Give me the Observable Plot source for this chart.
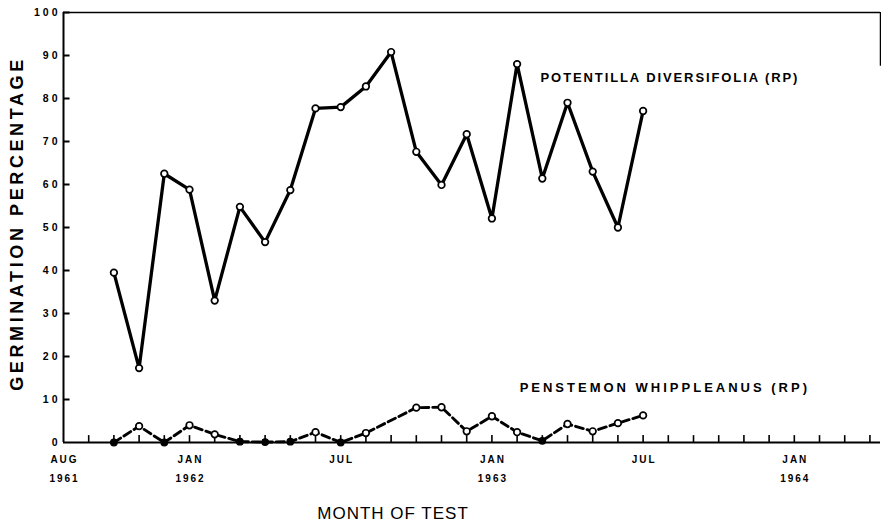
<!DOCTYPE html>
<html>
<head>
<meta charset="utf-8">
<script src="https://cdn.jsdelivr.net/npm/d3@7"></script>
<script src="https://cdn.jsdelivr.net/npm/@observablehq/plot@0.6"></script>
<style>
  body { margin: 0; background: #fff; }
  #chart svg { background: #fff; }
  text.ytl { letter-spacing: 3px; }
  text.xtl { letter-spacing: 2px; }
  text.potl { letter-spacing: 1.9px; }
  text.penl { letter-spacing: 3px; }
  text.ytitle { letter-spacing: 3.6px; }
  text.xtitle { letter-spacing: 1px; }
</style>
</head>
<body>
<div id="chart"></div>
<script>
// ---- Data ----
const potentillaMonths = ["1961-10","1961-11","1961-12","1962-01","1962-02","1962-03","1962-04","1962-05","1962-06","1962-07","1962-08","1962-09","1962-10","1962-11","1962-12","1963-01","1963-02","1963-03","1963-04","1963-05","1963-06","1963-07"];
const potentillaValues = [39.5, 17.3, 62.5, 58.8, 33.0, 54.8, 46.6, 58.7, 77.7, 78.0, 82.8, 90.8, 67.6, 59.9, 71.7, 52.1, 88.0, 61.4, 79.0, 63.0, 50.0, 77.1];

const penstemonMonths = ["1961-10","1961-11","1961-12","1962-01","1962-02","1962-03","1962-04","1962-05","1962-06","1962-07","1962-08","1962-10","1962-11","1962-12","1963-01","1963-02","1963-03","1963-04","1963-05","1963-06","1963-07"];
const penstemonValues = [0, 3.8, 0, 4.0, 1.9, 0.2, 0.1, 0.2, 2.4, 0, 2.2, 8.1, 8.2, 2.6, 6.1, 2.4, 0.4, 4.3, 2.6, 4.5, 6.3];

const xLabelMonths = ["1961-08","1962-01","1962-07","1963-01","1963-07","1964-01"];
const xMonthLabels = ["AUG","JAN","JUL","JAN","JUL","JAN"];
const xYearLabels  = ["1961","1962","","1963","","1964"];

const yTicks = [0, 10, 20, 30, 40, 50, 60, 70, 80, 90, 100];
const yTickLabels = ["0","10","20","30","40","50","60","70","80","90","100"];

const seriesLabels = ["POTENTILLA DIVERSIFOLIA (RP)", "PENSTEMON WHIPPLEANUS (RP)"];
const seriesLabelMonths = ["1963-03", "1963-02"];
const seriesLabelValues = [84.7, 12.8];

const firstMonth = "1961-08";
const lastTickMonth = "1964-04";

// ---- helpers ----
const monthIndex = s => {
  const [y, m] = s.split("-").map(Number);
  const [y0, m0] = firstMonth.split("-").map(Number);
  return (y - y0) * 12 + (m - m0);
};
const xMax = monthIndex(lastTickMonth) + 0.42;

const pot = potentillaMonths.map((d, i) => ({x: monthIndex(d), y: potentillaValues[i]}));
const pen = penstemonMonths.map((d, i) => ({x: monthIndex(d), y: penstemonValues[i]}));
const tickMonths = d3.range(1, monthIndex(lastTickMonth) + 1);
const xLabels = xLabelMonths.map((d, i) => ({x: monthIndex(d), m: xMonthLabels[i], yr: xYearLabels[i]}));
const sLabels = seriesLabels.map((t, i) => ({t, x: monthIndex(seriesLabelMonths[i]) + (i === 0 ? -0.07 : 0.1), y: seriesLabelValues[i]}));

const font = "'Liberation Sans', Arial, Helvetica, sans-serif";

const chart = Plot.plot({
  width: 881,
  height: 528,
  marginLeft: 63,
  marginRight: 1,
  marginTop: 12,
  marginBottom: 86,
  style: {fontFamily: font, color: "black", background: "white", overflow: "visible"},
  x: {domain: [0, xMax], axis: null},
  y: {domain: [0, 100], axis: null},
  marks: [
    // frame
    Plot.ruleY([100], {x1: 0, x2: xMax, strokeWidth: 1.5, stroke: "black"}),
    Plot.ruleX([xMax], {y1: 87.5, y2: 100, strokeWidth: 1.5, stroke: "black"}),
    Plot.ruleX([0], {y1: 0, y2: 100, strokeWidth: 2, stroke: "black"}),
    Plot.ruleY([0], {x1: 0, x2: xMax, strokeWidth: 2, stroke: "black"}),
    // ticks
    Plot.ruleX(tickMonths, {y1: 0, y2: 1.6, strokeWidth: 1.6, stroke: "black"}),
    Plot.ruleY(yTicks.filter(v => v > 0), {x1: 0, x2: 0.26, strokeWidth: 2, stroke: "black"}),
    // y tick labels
    Plot.text(yTicks, {x: 0, y: d => d, text: (d, i) => yTickLabels[i], textAnchor: "end", dx: -3, fontSize: 10.5, fontWeight: "bold", fill: "black", ariaLabel: () => "ytl"}),
    // x tick labels
    Plot.text(xLabels, {x: "x", y: 0, text: "m", dy: 17, dx: 1, fontSize: 10, fontWeight: "bold", fill: "black", ariaLabel: () => "xtl"}),
    Plot.text(xLabels, {x: "x", y: 0, text: "yr", dy: 36, dx: 1, fontSize: 10, fontWeight: "bold", fill: "black", ariaLabel: () => "xtl"}),
    // Potentilla
    Plot.line(pot, {x: "x", y: "y", stroke: "black", strokeWidth: 3.3}),
    Plot.dot(pot, {x: "x", y: "y", r: 3.3, fill: "white", stroke: "black", strokeWidth: 1.7}),
    // Penstemon
    Plot.line(pen, {x: "x", y: "y", stroke: "black", strokeWidth: 2.9, strokeDasharray: "8,4"}),
    Plot.dot(pen.filter(d => d.y >= 1), {x: "x", y: "y", r: 3.3, fill: "white", stroke: "black", strokeWidth: 1.7}),
    Plot.dot(pen.filter(d => d.y < 1), {x: "x", y: "y", r: 3.3, fill: "black", stroke: "black", strokeWidth: 1.2}),
    // series labels
    Plot.text([sLabels[0]], {x: "x", y: "y", text: "t", textAnchor: "start", fontSize: 13, fontWeight: "bold", fill: "black", ariaLabel: () => "potl"}),
    Plot.text([sLabels[1]], {x: "x", y: "y", text: "t", textAnchor: "start", fontSize: 13, fontWeight: "bold", fill: "black", ariaLabel: () => "penl"}),
    // axis titles
    Plot.text(["GERMINATION PERCENTAGE"], {frameAnchor: "left", textAnchor: "middle", lineAnchor: "middle", rotate: -90, dx: -46, dy: -4, fontSize: 18, fontWeight: "bold", fill: "black", ariaLabel: () => "ytitle"}),
    Plot.text(["MONTH OF TEST"], {frameAnchor: "bottom", textAnchor: "middle", lineAnchor: "middle", dx: -79, dy: 71, fontSize: 17, fill: "black", ariaLabel: () => "xtitle"})
  ]
});

// attach classes for letter-spacing from the aria-labels given above
d3.select(chart).selectAll("text[aria-label]").each(function() {
  this.classList.add(this.getAttribute("aria-label"));
});

document.getElementById("chart").appendChild(chart);
</script>
</body>
</html>
